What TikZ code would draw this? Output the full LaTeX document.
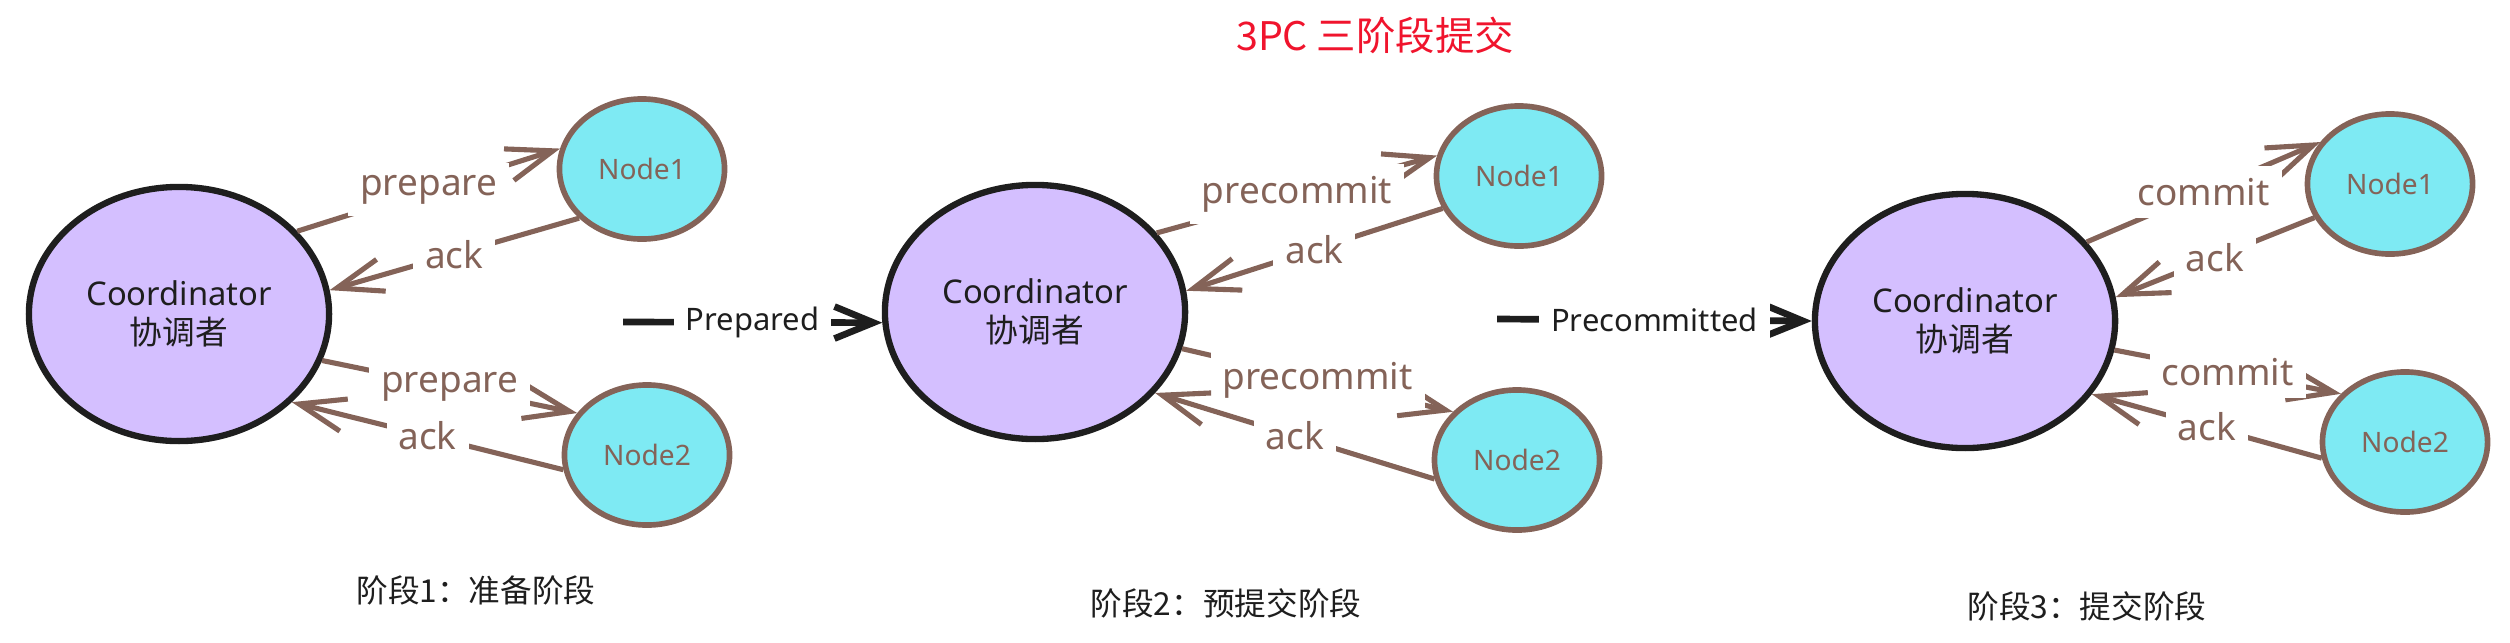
\documentclass[tikz,border=0pt]{standalone}
\usepackage{fontspec}
\setmainfont{Noto Sans}
\newfontfamily\cjk{Noto Sans CJK SC}
\usepackage{xcolor}
\usepackage{tikz}
\usetikzlibrary{shapes.geometric, arrows.meta}
\definecolor{coordfill}{HTML}{D4BFFF}
\definecolor{peerfill}{HTML}{7EEAF3}
\definecolor{msgbrown}{HTML}{846358}
\definecolor{inkblack}{HTML}{1E1E1E}
\definecolor{titlered}{HTML}{F0142D}
\tikzstyle{coordnode} = [draw, ellipse, minimum width=3cm, minimum height=2.54cm, inner sep=0pt, align=center, font=\fontsize{9.3}{11.2}\selectfont, line width=1.8pt, draw=inkblack, fill=coordfill, text=inkblack]
\tikzstyle{peernode} = [draw, ellipse, minimum width=1.65cm, minimum height=1.4cm, inner sep=0pt, font=\fontsize{8}{10}\selectfont, line width=1.6pt, draw=msgbrown, fill=peerfill, text=msgbrown]
\tikzstyle{msgarrw} = [line width=1.45pt, -{Straight Barb[length=4.6mm, width=3.3mm]}, color=msgbrown]
\tikzstyle{msglabel} = [fill=white, inner sep=1.2mm, font=\fontsize{10.5}{12}\selectfont, text=msgbrown]
\tikzstyle{phasearrw} = [line width=1.9pt, -{Straight Barb[length=3.9mm, width=3.2mm]}, color=inkblack]
\tikzstyle{phaselabel} = [fill=white, inner sep=1.2mm, font=\fontsize{8.8}{10}\selectfont, text=inkblack]
\tikzstyle{captionnode} = [font=\cjk\fontsize{9}{11}\selectfont, text=inkblack]

\begin{document}
\begin{tikzpicture}[x=0.01cm, y=-0.01cm]
    \useasboundingbox (0,0) rectangle (2510,642);
    \node (title) at (1375,35) [font=\cjk\fontsize{11.2}{13}\selectfont, text=titlered] {3PC 三阶段提交};

    % Phase 1
    \node (c1) at (179,314) [coordnode] {Coordinator\\{\cjk 协调者}};
    \node (n11) at (642,169) [peernode] {Node1};
    \node (n12) at (647,455) [peernode] {Node2};
    \node (cap1) at (476,590) [captionnode] {阶段1：准备阶段};

    \draw [msgarrw] (c1.35) -- node[msglabel] {prepare} (n11.166);
    \draw [msgarrw] (n11.218) -- node[msglabel] {ack} (c1.9);
    \draw [msgarrw] (c1.342) -- node[msglabel] {prepare} (n12.149);
    \draw [msgarrw] (n12.190) -- node[msglabel] {ack} (c1.322);

    % Phase 2
    \node (c2) at (1035,312) [coordnode] {Coordinator\\{\cjk 协调者}};
    \node (n21) at (1519,176) [peernode] {Node1};
    \node (n22) at (1517,460) [peernode] {Node2};
    \node (cap2) at (1226,603) [captionnode] {阶段2：预提交阶段};

    \draw [msgarrw] (c2.33) -- node[msglabel] {precommit} (n21.166);
    \draw [msgarrw] (n21.203) -- node[msglabel] {ack} (c2.8);
    \draw [msgarrw] (c2.346) -- node[msglabel] {precommit} (n22.143);
    \draw [msgarrw] (n22.193) -- node[msglabel] {ack} (c2.326);

    % Phase 3
    \node (c3) at (1965,321) [coordnode] {Coordinator\\{\cjk 协调者}};
    \node (n31) at (2390,184) [peernode] {Node1};
    \node (n32) at (2405,442) [peernode] {Node2};
    \node (cap3) at (2087,606) [captionnode] {阶段3：提交阶段};

    \draw [msgarrw] (c3.33) -- node[msglabel] {commit} (n31.149);
    \draw [msgarrw] (n31.204) -- node[msglabel] {ack} (c3.9);
    \draw [msgarrw] (c3.349) -- node[msglabel] {commit} (n32.143);
    \draw [msgarrw] (n32.191) -- node[msglabel] {ack} (c3.330);

    % Phase transitions
    \coordinate (go2) at (623,322);
    \coordinate (go3) at (1497,319);
    \draw [phasearrw] (go2) -- node[phaselabel] {Prepared} (c2.184);
    \draw [phasearrw] (go3) -- node[phaselabel] {Precommitted} (c3.180);
\end{tikzpicture}
\end{document}
